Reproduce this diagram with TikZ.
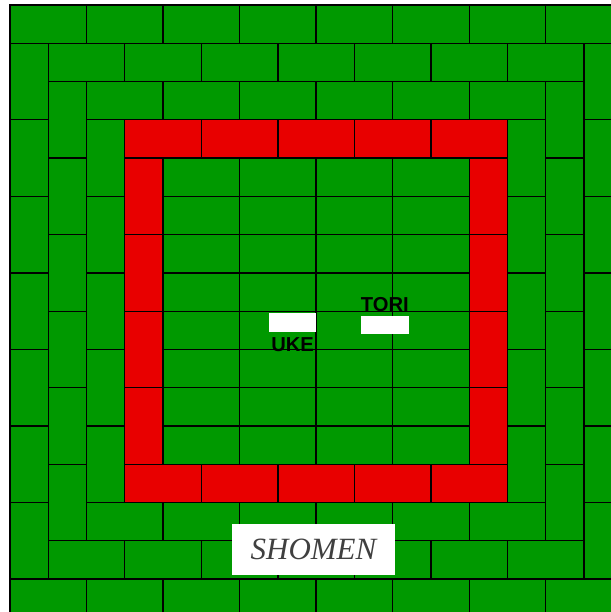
\documentclass[tikz,border=0pt]{standalone}
\usepackage{fontspec}
\setmainfont{Liberation Serif}
\newfontfamily\sansbold{Liberation Sans}
\usepackage{tikz}
\usetikzlibrary{positioning}
\usepackage{xcolor}
\definecolor{cMAT}{HTML}{009900}
\definecolor{cJOU}{HTML}{E80000}

\begin{document}
\begin{tikzpicture}[
  mat/.style={draw=black, fill=cMAT, line width=1pt},
  redmat/.style={draw=black, fill=cJOU, line width=1pt},
  player/.style={fill=white, minimum width=1.24cm, minimum height=0.48cm, inner sep=0pt},
  lbl/.style={font=\sansbold\bfseries\fontsize{15}{18}\selectfont, inner sep=0pt}
]
\useasboundingbox (-0.261,0.131) rectangle (15.704,-15.861);
\fill[white] (-0.261,0.131) rectangle (15.704,-15.861);
\clip (-0.261,0.131) rectangle (15.704,-15.861);

\foreach \c in {0,2,...,14} {\draw[mat] (\c,0) rectangle ++(2,-1); \draw[mat] (\c,-15) rectangle ++(2,-1);}
\foreach \r in {1,3,...,13} {\draw[mat] (0,-\r) rectangle ++(1,-2); \draw[mat] (15,-\r) rectangle ++(1,-2);}
\foreach \c in {1,3,...,13} {\draw[mat] (\c,-1) rectangle ++(2,-1); \draw[mat] (\c,-14) rectangle ++(2,-1);}
\foreach \r in {2,4,...,12} {\draw[mat] (1,-\r) rectangle ++(1,-2); \draw[mat] (14,-\r) rectangle ++(1,-2);}
\foreach \c in {2,4,...,12} {\draw[mat] (\c,-2) rectangle ++(2,-1); \draw[mat] (\c,-13) rectangle ++(2,-1);}
\foreach \r in {3,5,...,11} {\draw[mat] (2,-\r) rectangle ++(1,-2); \draw[mat] (13,-\r) rectangle ++(1,-2);}

\foreach \c in {3,5,...,11} {\draw[redmat] (\c,-3) rectangle ++(2,-1); \draw[redmat] (\c,-12) rectangle ++(2,-1);}
\foreach \r in {4,6,...,10} {\draw[redmat] (3,-\r) rectangle ++(1,-2); \draw[redmat] (12,-\r) rectangle ++(1,-2);}

\foreach \r in {4,...,11} \foreach \c in {4,6,...,10} \draw[mat] (\c,-\r) rectangle ++(2,-1);

\node[player] (ukebox) at (7.385,-8.295) {};
\node[player] (toribox) at (9.795,-8.365) {};
\node[lbl, below=0.13cm of ukebox] (uke) {UKE};
\node[lbl, above=0.1cm of toribox] (tori) {TORI};

\node[fill=white, minimum width=4.26cm, minimum height=1.33cm, text=black!75,
  font=\itshape\fontsize{23}{27}\selectfont] (shomen) at (7.93,-14.225) {SHOMEN};
\end{tikzpicture}
\end{document}
